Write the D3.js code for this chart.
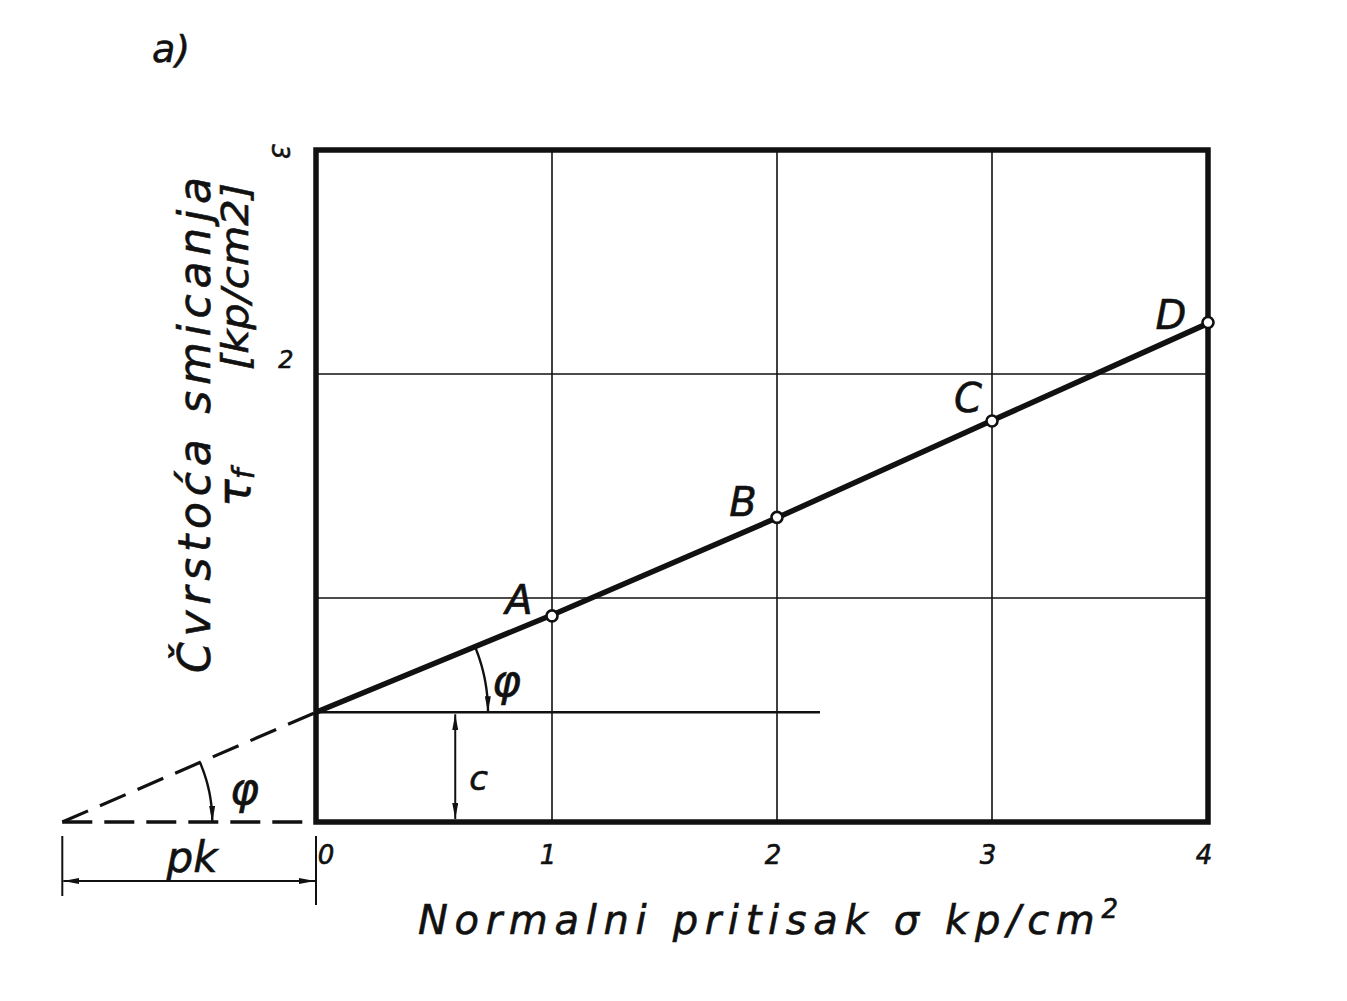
<!DOCTYPE html>
<html><head><meta charset="utf-8">
<script src="https://cdn.jsdelivr.net/npm/d3@7"></script>
<style>
html,body{margin:0;padding:0;background:#fff;}
text{font-family:"DejaVu Sans",sans-serif;font-style:italic;fill:#111;stroke:#111;stroke-width:0.6px;}
</style></head>
<body>
<script>
// ---- data ----
const xTicks = [0, 1, 2, 3, 4];
const yGrid = [1, 2];
const yTickLabels = [2, 3];
const pointNames = ["A", "B", "C", "D"];
const sigmaValues = [1, 2, 3, 4];
const tauValues = [0.92, 1.36, 1.79, 2.23];
const cohesion = 0.49;      // c
const tanPhi = 0.434;       // slope of failure line
const pkValue = -1.075;     // intercept of extended line with sigma axis (as drawn)
const cLineEnd = 2.2;       // end of horizontal line at c
const cArrowX = 0.59;       // sigma of the c dimension arrow

const W = 1347, H = 1001;
const svg = d3.select("body").append("svg").attr("width", W).attr("height", H);
svg.append("rect").attr("width", W).attr("height", H).attr("fill", "#fff");

// hand-drawn axis: unequal tick spacing
const x = d3.scaleLinear().domain([0, 1, 2, 3, 4]).range([316, 552, 777, 992, 1208]);
const y = d3.scaleLinear().domain([0, 3]).range([822, 150]);

const defs = svg.append("defs");
defs.append("marker").attr("id", "arr").attr("viewBox", "0 0 16 6")
  .attr("refX", 16).attr("refY", 3).attr("markerWidth", 16).attr("markerHeight", 6)
  .attr("markerUnits", "userSpaceOnUse").attr("orient", "auto-start-reverse")
  .append("path").attr("d", "M0,0 L16,3 L0,6 Z").attr("fill", "#111");

const ink = "#111";
const g = svg.append("g");

// grid
g.selectAll(".vg").data(xTicks.filter(d => d > 0 && d < 4)).join("line")
  .attr("x1", d => x(d)).attr("x2", d => x(d)).attr("y1", y(0)).attr("y2", y(3))
  .attr("stroke", ink).attr("stroke-width", 1.6);
g.selectAll(".hg").data(yGrid).join("line")
  .attr("x1", x(0)).attr("x2", x(4)).attr("y1", d => y(d)).attr("y2", d => y(d))
  .attr("stroke", ink).attr("stroke-width", 1.6);

// horizontal line at c
g.append("line").attr("x1", x(0)).attr("x2", x(cLineEnd)).attr("y1", y(cohesion)).attr("y2", y(cohesion))
  .attr("stroke", ink).attr("stroke-width", 2.6);

// frame
g.append("rect").attr("x", x(0)).attr("y", y(3)).attr("width", x(4) - x(0)).attr("height", y(0) - y(3))
  .attr("fill", "none").attr("stroke", ink).attr("stroke-width", 5.5);

// c dimension arrow
g.append("line").attr("x1", x(cArrowX)).attr("x2", x(cArrowX)).attr("y1", y(cohesion) + 2).attr("y2", y(0) - 3)
  .attr("stroke", ink).attr("stroke-width", 2)
  .attr("marker-start", "url(#arr)").attr("marker-end", "url(#arr)");
g.append("text").attr("x", x(cArrowX) + 14).attr("y", 790).attr("font-size", 34).text("c");

// dashed extension
g.append("line").attr("x1", x(pkValue)).attr("y1", y(0)).attr("x2", x(0)).attr("y2", y(cohesion))
  .attr("stroke", ink).attr("stroke-width", 3.2).attr("stroke-dasharray", "28,13");
g.append("line").attr("x1", x(pkValue)).attr("y1", y(0)).attr("x2", x(0) - 10).attr("y2", y(0))
  .attr("stroke", ink).attr("stroke-width", 3.4).attr("stroke-dasharray", "30,12");

// failure line
const lineGen = d3.line().x(d => x(d)).y(d => y(cohesion + tanPhi * d));
g.append("path").attr("d", lineGen(xTicks)).attr("fill", "none").attr("stroke", ink)
  .attr("stroke-width", 5.5).attr("stroke-linejoin", "round");

// phi arcs
function phiArc(cx, cy, r, ang, lx, ly) {
  const pts = d3.range(0, 1.0001, 0.05).map(t => {
    const a = -ang * (1 - t);
    return [cx + r * Math.cos(a), cy + r * Math.sin(a)];
  });
  g.append("path").attr("d", d3.line()(pts)).attr("fill", "none").attr("stroke", ink)
    .attr("stroke-width", 2.4).attr("marker-end", "url(#arr)");
  g.append("text").attr("x", lx).attr("y", ly).attr("font-size", 44).text("φ");
}
const angUp = Math.atan2(y(0) - y(tanPhi), x(1) - x(0));
const angLow = Math.atan2(y(0) - y(cohesion), x(0) - x(pkValue));
phiArc(x(0), y(cohesion), 172, angUp, 492, 696);
phiArc(x(pkValue), y(0), 150, angLow, 230, 804);

// points
g.selectAll(".pt").data(sigmaValues).join("circle")
  .attr("cx", d => x(d)).attr("cy", (d, i) => y(tauValues[i])).attr("r", 5.5)
  .attr("fill", "#fff").attr("stroke", ink).attr("stroke-width", 2.6);
const labOff = [[-33, -2], [-34, -1], [-24, -9], [-37, 7]];
g.selectAll(".pl").data(pointNames).join("text")
  .attr("x", (d, i) => x(sigmaValues[i]) + labOff[i][0]).attr("y", (d, i) => y(tauValues[i]) + labOff[i][1])
  .attr("font-size", 40).attr("text-anchor", "middle").text(d => d);

// x tick labels
g.selectAll(".xt").data(xTicks).join("text")
  .attr("x", d => d === 0 ? x(d) + 10 : x(d) - 4).attr("y", 864)
  .attr("font-size", 26).attr("text-anchor", "middle").text(d => d);

// y tick labels
g.selectAll(".yt").data(yTickLabels).join("text")
  .attr("transform", d => d === 3 ? `translate(272,${y(d) + 2}) rotate(90)` : `translate(286,${y(d) - 6})`)
  .attr("font-size", 24).attr("text-anchor", "middle").text(d => d);

// pk dimension
g.append("line").attr("x1", x(pkValue)).attr("x2", x(pkValue)).attr("y1", 836).attr("y2", 896).attr("stroke", ink).attr("stroke-width", 2);
g.append("line").attr("x1", x(0)).attr("x2", x(0)).attr("y1", 836).attr("y2", 905).attr("stroke", ink).attr("stroke-width", 2);
g.append("line").attr("x1", x(pkValue) + 1).attr("x2", x(0) - 1).attr("y1", 881).attr("y2", 881)
  .attr("stroke", ink).attr("stroke-width", 2.2).attr("marker-start", "url(#arr)").attr("marker-end", "url(#arr)");
g.append("text").attr("x", 192).attr("y", 872).attr("font-size", 42)
  .attr("text-anchor", "middle").text("pk");

// axis titles
svg.append("text").attr("x", 418).attr("y", 934).attr("font-size", 40)
  .attr("textLength", 700).attr("lengthAdjust", "spacing")
  .html('Normalni  pritisak σ kp/cm<tspan dy="-16" font-size="26">2</tspan>');

svg.append("text").attr("transform", "translate(210,425) rotate(-90)")
  .attr("font-size", 44).attr("text-anchor", "middle")
  .attr("textLength", 496).attr("lengthAdjust", "spacing").text("Čvrstoća smicanja");
svg.append("text").attr("transform", "translate(250,507) rotate(-90)")
  .attr("font-size", 46).html('τ<tspan font-size="30" dy="4">f</tspan>');
svg.append("text").attr("transform", "translate(248,370) rotate(-90)")
  .attr("font-size", 38).attr("textLength", 187).attr("lengthAdjust", "spacingAndGlyphs").text("[kp/cm2]");

// panel label
svg.append("text").attr("x", 152).attr("y", 62).attr("font-size", 38).text("a)");
</script>
</body></html>
